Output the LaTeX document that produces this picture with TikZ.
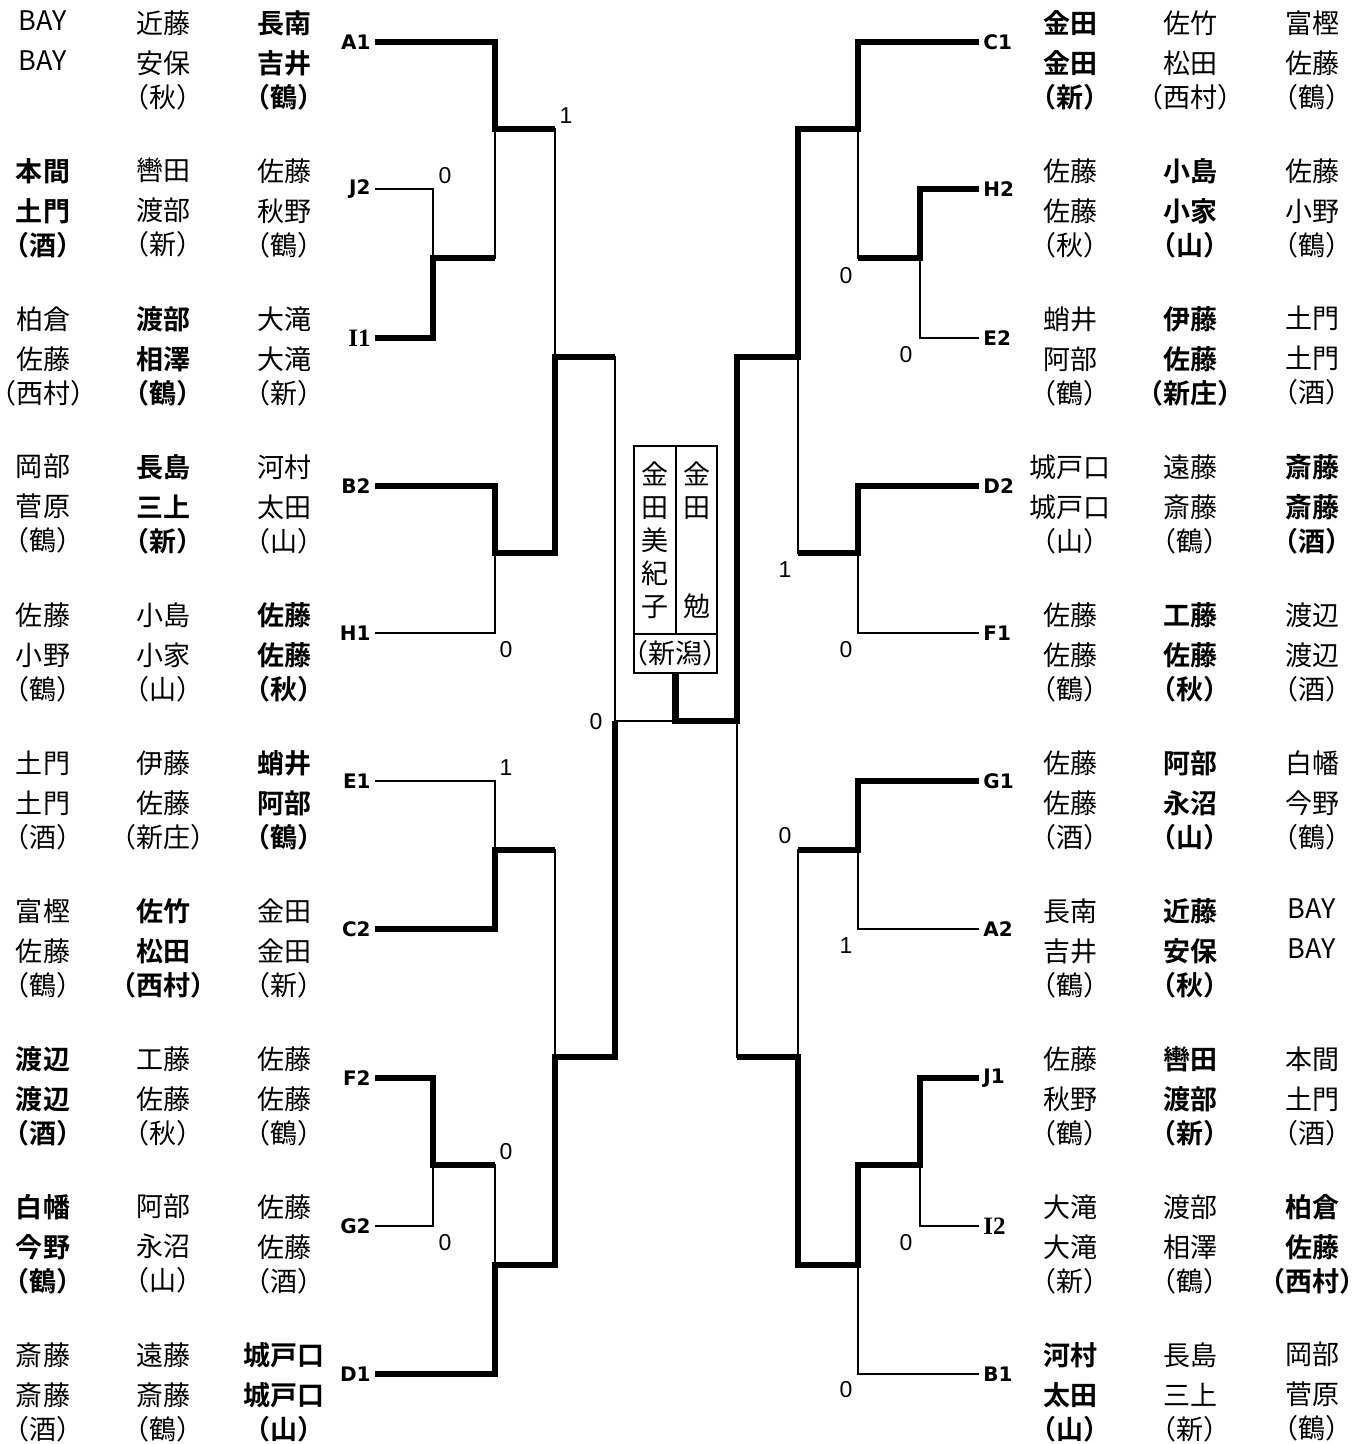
\documentclass[tikz,border=0pt]{standalone}
\usepackage{fontspec}
\setmainfont{Noto Sans CJK JP}[BoldFont={Noto Sans CJK JP Bold}]
\newfontfamily\scorefont{Liberation Sans}
\newfontfamily\seedfont{DejaVu Sans}
\newfontfamily\seedserif{Liberation Serif}
\usetikzlibrary{positioning}

\begin{document}
\begin{tikzpicture}[
    x=0.5pt, y=-0.5pt,
    team/.style={align=center, inner sep=0pt, anchor=north, font=\fontsize{13.5}{20}\selectfont},
    teamwin/.style={team, font=\fontsize{13.5}{20}\selectfont\bfseries},
    seedl/.style={anchor=east, inner xsep=2pt, inner ysep=0pt, font=\seedfont\bfseries\fontsize{10}{10}\selectfont},
    seedr/.style={seedl, anchor=west},
    seedi/.style={font=\seedserif\bfseries\fontsize{12.5}{12.5}\selectfont},
    score/.style={inner sep=0pt, font=\scorefont\fontsize{11.5}{11.5}\selectfont},
    colbox/.style={draw, line width=1.1pt, outer sep=0pt, inner sep=0pt, align=center, minimum width=20.75pt, minimum height=94pt, font=\fontsize{13.5}{16.5}\selectfont},
    clubbox/.style={draw, line width=1.1pt, outer sep=0pt, inner sep=0pt, minimum width=41.5pt, minimum height=19.5pt, font=\fontsize{13.5}{16.5}\selectfont},
    lose/.style={line width=1.1pt},
    win/.style={line width=3.3pt}
]
    \useasboundingbox (0,0) rectangle (1365,1444);

    % left side
    \node[team] (A1a) at (43,10) {BAY\\BAY};
    \node[team] (A1b) at (163,10) {近藤\\安保\\[-3pt]（秋）};
    \node[teamwin] (A1c) at (284,10) {長南\\吉井\\[-3pt]（鶴）};
    \node[teamwin] (J2a) at (43,158) {本間\\土門\\[-3pt]（酒）};
    \node[team] (J2b) at (163,158) {轡田\\渡部\\[-3pt]（新）};
    \node[team] (J2c) at (284,158) {佐藤\\秋野\\[-3pt]（鶴）};
    \node[team] (I1a) at (44,306) {柏倉\\佐藤\\[-3pt]\makebox[0pt]{（西村）}};
    \node[teamwin] (I1b) at (163,306) {渡部\\相澤\\[-3pt]（鶴）};
    \node[team] (I1c) at (284,306) {大滝\\大滝\\[-3pt]（新）};
    \node[team] (B2a) at (43,454) {岡部\\菅原\\[-3pt]（鶴）};
    \node[teamwin] (B2b) at (163,454) {長島\\三上\\[-3pt]（新）};
    \node[team] (B2c) at (284,454) {河村\\太田\\[-3pt]（山）};
    \node[team] (H1a) at (43,602) {佐藤\\小野\\[-3pt]（鶴）};
    \node[team] (H1b) at (163,602) {小島\\小家\\[-3pt]（山）};
    \node[teamwin] (H1c) at (284,602) {佐藤\\佐藤\\[-3pt]（秋）};
    \node[team] (E1a) at (43,750) {土門\\土門\\[-3pt]（酒）};
    \node[team] (E1b) at (163,750) {伊藤\\佐藤\\[-3pt]（新庄）};
    \node[teamwin] (E1c) at (284,750) {蛸井\\阿部\\[-3pt]（鶴）};
    \node[team] (C2a) at (43,898) {富樫\\佐藤\\[-3pt]（鶴）};
    \node[teamwin] (C2b) at (163,898) {佐竹\\松田\\[-3pt]（西村）};
    \node[team] (C2c) at (284,898) {金田\\金田\\[-3pt]（新）};
    \node[teamwin] (F2a) at (43,1046) {渡辺\\渡辺\\[-3pt]（酒）};
    \node[team] (F2b) at (163,1046) {工藤\\佐藤\\[-3pt]（秋）};
    \node[team] (F2c) at (284,1046) {佐藤\\佐藤\\[-3pt]（鶴）};
    \node[teamwin] (G2a) at (43,1194) {白幡\\今野\\[-3pt]（鶴）};
    \node[team] (G2b) at (163,1194) {阿部\\永沼\\[-3pt]（山）};
    \node[team] (G2c) at (284,1194) {佐藤\\佐藤\\[-3pt]（酒）};
    \node[team] (D1a) at (43,1342) {斎藤\\斎藤\\[-3pt]（酒）};
    \node[team] (D1b) at (163,1342) {遠藤\\斎藤\\[-3pt]（鶴）};
    \node[teamwin] (D1c) at (284,1342) {城戸口\\城戸口\\[-3pt]（山）};

    % right side
    \node[teamwin] (C1a) at (1070,10) {金田\\金田\\[-3pt]（新）};
    \node[team] (C1b) at (1190,10) {佐竹\\松田\\[-3pt]（西村）};
    \node[team] (C1c) at (1312,10) {富樫\\佐藤\\[-3pt]（鶴）};
    \node[team] (H2a) at (1070,158) {佐藤\\佐藤\\[-3pt]（秋）};
    \node[teamwin] (H2b) at (1190,158) {小島\\小家\\[-3pt]（山）};
    \node[team] (H2c) at (1312,158) {佐藤\\小野\\[-3pt]（鶴）};
    \node[team] (E2a) at (1070,306) {蛸井\\阿部\\[-3pt]（鶴）};
    \node[teamwin] (E2b) at (1190,306) {伊藤\\佐藤\\[-3pt]（新庄）};
    \node[team] (E2c) at (1312,306) {土門\\土門\\[-3pt]（酒）};
    \node[team] (D2a) at (1070,454) {城戸口\\城戸口\\[-3pt]（山）};
    \node[team] (D2b) at (1190,454) {遠藤\\斎藤\\[-3pt]（鶴）};
    \node[teamwin] (D2c) at (1312,454) {斎藤\\斎藤\\[-3pt]（酒）};
    \node[team] (F1a) at (1070,602) {佐藤\\佐藤\\[-3pt]（鶴）};
    \node[teamwin] (F1b) at (1190,602) {工藤\\佐藤\\[-3pt]（秋）};
    \node[team] (F1c) at (1312,602) {渡辺\\渡辺\\[-3pt]（酒）};
    \node[team] (G1a) at (1070,750) {佐藤\\佐藤\\[-3pt]（酒）};
    \node[teamwin] (G1b) at (1190,750) {阿部\\永沼\\[-3pt]（山）};
    \node[team] (G1c) at (1312,750) {白幡\\今野\\[-3pt]（鶴）};
    \node[team] (A2a) at (1070,898) {長南\\吉井\\[-3pt]（鶴）};
    \node[teamwin] (A2b) at (1190,898) {近藤\\安保\\[-3pt]（秋）};
    \node[team] (A2c) at (1312,898) {BAY\\BAY};
    \node[team] (J1a) at (1070,1046) {佐藤\\秋野\\[-3pt]（鶴）};
    \node[teamwin] (J1b) at (1190,1046) {轡田\\渡部\\[-3pt]（新）};
    \node[team] (J1c) at (1312,1046) {本間\\土門\\[-3pt]（酒）};
    \node[team] (I2a) at (1070,1194) {大滝\\大滝\\[-3pt]（新）};
    \node[team] (I2b) at (1190,1194) {渡部\\相澤\\[-3pt]（鶴）};
    \node[teamwin] (I2c) at (1312,1194) {柏倉\\佐藤\\[-3pt]\makebox[0pt]{（西村）}};
    \node[teamwin] (B1a) at (1070,1342) {河村\\太田\\[-3pt]（山）};
    \node[team] (B1b) at (1190,1342) {長島\\三上\\[-3pt]（新）};
    \node[team] (B1c) at (1312,1342) {岡部\\菅原\\[-3pt]（鶴）};

    % seeds
    \node[seedl] (A1) at (375,42) {A1};
    \node[seedl] (J2) at (375,189) {J2};
    \node[seedl, seedi] (I1) at (375,338) {I1};
    \node[seedl] (B2) at (375,486) {B2};
    \node[seedl] (H1) at (375,633) {H1};
    \node[seedl] (E1) at (375,781) {E1};
    \node[seedl] (C2) at (375,929) {C2};
    \node[seedl] (F2) at (375,1078) {F2};
    \node[seedl] (G2) at (375,1226) {G2};
    \node[seedl] (D1) at (375,1374) {D1};
    \node[seedr] (C1) at (979,42) {C1};
    \node[seedr] (H2) at (979,189) {H2};
    \node[seedr] (E2) at (979,338) {E2};
    \node[seedr] (D2) at (979,486) {D2};
    \node[seedr] (F1) at (979,633) {F1};
    \node[seedr] (G1) at (979,781) {G1};
    \node[seedr] (A2) at (979,929) {A2};
    \node[seedr] (J1) at (979,1078) {J1};
    \node[seedr, seedi] (I2) at (979,1226) {I2};
    \node[seedr] (B1) at (979,1374) {B1};

    % champion
    \node[colbox] (wife) at (655,540) {金\\田\\美\\紀\\子};
    \node[colbox, right=0pt of wife] (husband) {金\\田\\[33pt]勉};
    \node[clubbox, below=0pt of wife.south east] (pref) {\makebox[0pt]{（新潟）}};

    \coordinate (l1) at (433,258);
    \coordinate (l2) at (495,129);
    \coordinate (l3) at (495,553);
    \coordinate (l4) at (495,850);
    \coordinate (l5) at (433,1165);
    \coordinate (l6) at (495,1265);
    \coordinate (l7) at (555,357);
    \coordinate (l8) at (555,1057);
    \coordinate (l9) at (615,721);
    \coordinate (r1) at (920,258);
    \coordinate (r2) at (858,129);
    \coordinate (r3) at (858,553);
    \coordinate (r4) at (858,850);
    \coordinate (r5) at (920,1165);
    \coordinate (r6) at (858,1265);
    \coordinate (r7) at (798,357);
    \coordinate (r8) at (798,1057);
    \coordinate (r9) at (737,721);

    \draw[lose] (A1.east) -| (l2);
    \draw[lose] (J2.east) -| (l1);
    \draw[lose] (I1.east) -| (l1);
    \draw[lose] (l1) -| (l2);
    \draw[lose] (l2) -| (l7);
    \draw[lose] (B2.east) -| (l3);
    \draw[lose] (H1.east) -| (l3);
    \draw[lose] (l3) -| (l7);
    \draw[lose] (l7) -| (l9);
    \draw[lose] (E1.east) -| (l4);
    \draw[lose] (C2.east) -| (l4);
    \draw[lose] (F2.east) -| (l5);
    \draw[lose] (G2.east) -| (l5);
    \draw[lose] (l5) -| (l6);
    \draw[lose] (D1.east) -| (l6);
    \draw[lose] (l4) -| (l8);
    \draw[lose] (l6) -| (l8);
    \draw[lose] (l8) -| (l9);
    \draw[lose] (l9) -- (r9);
    \draw[lose] (C1.west) -| (r2);
    \draw[lose] (H2.west) -| (r1);
    \draw[lose] (E2.west) -| (r1);
    \draw[lose] (r1) -| (r2);
    \draw[lose] (r2) -| (r7);
    \draw[lose] (D2.west) -| (r3);
    \draw[lose] (F1.west) -| (r3);
    \draw[lose] (r3) -| (r7);
    \draw[lose] (r7) -| (r9);
    \draw[lose] (G1.west) -| (r4);
    \draw[lose] (A2.west) -| (r4);
    \draw[lose] (J1.west) -| (r5);
    \draw[lose] (I2.west) -| (r5);
    \draw[lose] (r5) -| (r6);
    \draw[lose] (B1.west) -| (r6);
    \draw[lose] (r4) -| (r8);
    \draw[lose] (r6) -| (r8);
    \draw[lose] (r8) -| (r9);

    \draw[win] (I1.east) -| (l1) -- (l1 -| l2);
    \draw[win] (A1.east) -| (l2) -- (l2 -| l7);
    \draw[win] (B2.east) -| (l3) -| (l7) -- (l7 -| l9);
    \draw[win] (C2.east) -| (l4) -- (l4 -| l8);
    \draw[win] (F2.east) -| (l5) -- (l5 -| l6);
    \draw[win] (D1.east) -| (l6) -| (l8) -| (l9);
    \draw[win] (H2.west) -| (r1) -- (r1 -| r2);
    \draw[win] (C1.west) -| (r2) -| (r7) -| (r9) -- (pref.south |- r9) -- (pref.south);
    \draw[win] (D2.west) -| (r3) -- (r3 -| r7);
    \draw[win] (G1.west) -| (r4) -- (r4 -| r8);
    \draw[win] (J1.west) -| (r5) -| (r6) -| (r8) -- (r8 -| r9);

    % scores
    \node[score] (s1) at (566,116) {1};
    \node[score] (s2) at (445,176) {0};
    \node[score] (s3) at (506,650) {0};
    \node[score] (s4) at (596,722) {0};
    \node[score] (s5) at (506,768) {1};
    \node[score] (s6) at (506,1152) {0};
    \node[score] (s7) at (445,1243) {0};
    \node[score] (s8) at (846,276) {0};
    \node[score] (s9) at (906,355) {0};
    \node[score] (s10) at (785,570) {1};
    \node[score] (s11) at (846,650) {0};
    \node[score] (s12) at (785,836) {0};
    \node[score] (s13) at (846,946) {1};
    \node[score] (s14) at (906,1243) {0};
    \node[score] (s15) at (846,1390) {0};
\end{tikzpicture}
\end{document}
